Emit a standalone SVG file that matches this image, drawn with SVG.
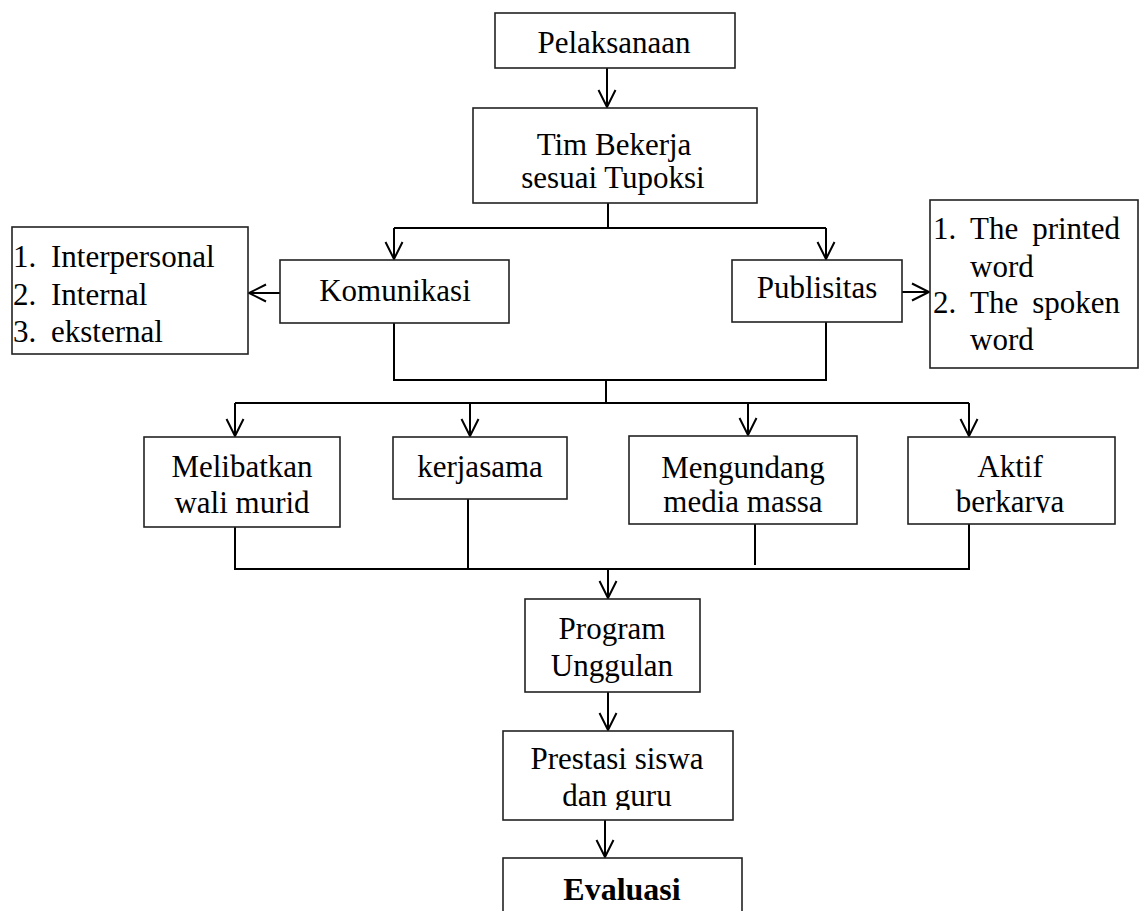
<svg xmlns="http://www.w3.org/2000/svg" width="1140" height="911" viewBox="0 0 1140 911">
  <style>
    .box { fill: #fff; stroke: #222; stroke-width: 1.6; }
    .lbl { font-family: "Liberation Serif", "Times New Roman", serif; font-size: 31px; fill: #000; }
    .c { text-anchor: middle; }
    .e { text-anchor: end; }
    .b { font-weight: bold; font-size: 32px; }
    .wire { fill: none; stroke: #000; stroke-width: 2; }
  </style>
  <defs>
    <marker id="arr" markerUnits="userSpaceOnUse" viewBox="-19 -11 22 22" markerWidth="22" markerHeight="22" refX="0" refY="0" orient="auto" overflow="visible">
      <path d="M-17,-8.5 L0,0 L-17,8.5" fill="none" stroke="#000" stroke-width="2"/>
    </marker>
    <clipPath id="clipAktif"><rect x="908" y="437" width="207" height="76"/></clipPath>
    <clipPath id="clipPrestasi"><rect x="503" y="731" width="230" height="79"/></clipPath>
  </defs>

  <!-- connectors -->
  <g id="connectors" class="wire">
    <line x1="607" y1="68" x2="607" y2="107" marker-end="url(#arr)"/>
    <polyline points="608,203 608,228"/>
    <polyline points="394,228 826,228"/>
    <line x1="394" y1="228" x2="394" y2="259" marker-end="url(#arr)"/>
    <line x1="826" y1="228" x2="826" y2="259" marker-end="url(#arr)"/>
    <line x1="280" y1="293" x2="249" y2="293" marker-end="url(#arr)"/>
    <line x1="902" y1="292" x2="929" y2="292" marker-end="url(#arr)"/>
    <polyline points="394,323 394,380 826,380 826,322"/>
    <polyline points="606,380 606,403"/>
    <polyline points="235,403 969,403"/>
    <line x1="235" y1="403" x2="235" y2="436" marker-end="url(#arr)"/>
    <line x1="470" y1="403" x2="470" y2="436" marker-end="url(#arr)"/>
    <line x1="748" y1="403" x2="748" y2="435" marker-end="url(#arr)"/>
    <line x1="969" y1="403" x2="969" y2="436" marker-end="url(#arr)"/>
    <polyline points="235,527 235,569 969,569 969,524"/>
    <polyline points="468,499 468,569"/>
    <polyline points="755,524 755,565"/>
    <line x1="608" y1="569" x2="608" y2="598" marker-end="url(#arr)"/>
    <line x1="608" y1="692" x2="608" y2="730" marker-end="url(#arr)"/>
    <line x1="605" y1="820" x2="605" y2="857" marker-end="url(#arr)"/>
  </g>

  <!-- nodes -->
  <g id="pelaksanaan">
    <rect class="box" x="495" y="13" width="240" height="55"/>
    <text class="lbl c" x="614" y="53">Pelaksanaan</text>
  </g>
  <g id="tim-bekerja">
    <rect class="box" x="473" y="108" width="284" height="95"/>
    <text class="lbl c" x="614" y="155">Tim Bekerja</text>
    <text class="lbl c" x="613" y="188">sesuai Tupoksi</text>
  </g>
  <g id="komunikasi">
    <rect class="box" x="280" y="260" width="229" height="63"/>
    <text class="lbl c" x="395" y="301">Komunikasi</text>
  </g>
  <g id="jenis-komunikasi">
    <rect class="box" x="12" y="227" width="236" height="127"/>
    <text class="lbl" x="13" y="267">1.</text>
    <text class="lbl" x="51" y="267">Interpersonal</text>
    <text class="lbl" x="13" y="305">2.</text>
    <text class="lbl" x="51" y="305">Internal</text>
    <text class="lbl" x="13" y="342">3.</text>
    <text class="lbl" x="51" y="342">eksternal</text>
  </g>
  <g id="publisitas">
    <rect class="box" x="732" y="260" width="170" height="62"/>
    <text class="lbl c" x="817" y="298">Publisitas</text>
  </g>
  <g id="jenis-publisitas">
    <rect class="box" x="930" y="200" width="208" height="168"/>
    <text class="lbl" x="933" y="239">1.</text>
    <text class="lbl" x="970" y="239">The</text>
    <text class="lbl e" x="1120" y="239">printed</text>
    <text class="lbl" x="970" y="277">word</text>
    <text class="lbl" x="933" y="313">2.</text>
    <text class="lbl" x="970" y="313">The</text>
    <text class="lbl e" x="1120" y="313">spoken</text>
    <text class="lbl" x="970" y="350">word</text>
  </g>
  <g id="melibatkan">
    <rect class="box" x="144" y="437" width="196" height="90"/>
    <text class="lbl c" x="242" y="477">Melibatkan</text>
    <text class="lbl c" x="242" y="513">wali murid</text>
  </g>
  <g id="kerjasama">
    <rect class="box" x="393" y="437" width="174" height="62"/>
    <text class="lbl c" x="480" y="477">kerjasama</text>
  </g>
  <g id="mengundang">
    <rect class="box" x="629" y="436" width="228" height="88"/>
    <text class="lbl c" x="743" y="478">Mengundang</text>
    <text class="lbl c" x="743" y="512">media massa</text>
  </g>
  <g id="aktif">
    <rect class="box" x="908" y="437" width="207" height="87"/>
    <text class="lbl c" x="1010" y="477">Aktif</text>
    <text class="lbl c" x="1010" y="512" clip-path="url(#clipAktif)">berkarya</text>
  </g>
  <g id="program">
    <rect class="box" x="525" y="599" width="175" height="93"/>
    <text class="lbl c" x="612" y="639">Program</text>
    <text class="lbl c" x="612" y="676">Unggulan</text>
  </g>
  <g id="prestasi">
    <rect class="box" x="503" y="731" width="230" height="89"/>
    <text class="lbl c" x="617" y="769">Prestasi siswa</text>
    <text class="lbl c" x="617" y="806" clip-path="url(#clipPrestasi)">dan guru</text>
  </g>
  <g id="evaluasi">
    <rect class="box" x="503" y="858" width="239" height="70"/>
    <text class="lbl c b" x="622" y="900">Evaluasi</text>
  </g>
</svg>
